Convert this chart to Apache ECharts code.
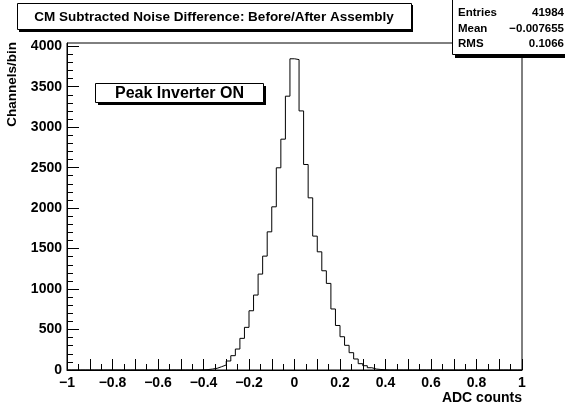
<!DOCTYPE html>
<html><head><meta charset="utf-8">
<script src="https://cdn.jsdelivr.net/npm/echarts@6/dist/echarts.min.js"></script>
<style>html,body{margin:0;padding:0;background:#fff}#c{width:565px;height:408px}</style>
</head><body><div id="c"></div>
<script>
// ---- data ----
const histLow = -1, histHigh = 1, binWidth = 0.02;
// counts per bin (100 bins, lower edges -1, -0.98, ... 0.98)
const counts = [
  0,0,0,0,0,0,0,0,0,0,
  0,0,0,0,0,0,0,0,0,0,
  0,0,0,0,0,0,0,0,0,2,
  5,12,21,41,62,111,177,259,391,527,
  732,926,1185,1407,1707,2016,2498,2852,3383,3845,
  3835,3201,2539,2127,1654,1460,1226,1070,754,550,
  411,305,214,136,78,53,28,12,6,3,
  0,0,0,0,0,0,0,0,0,0,
  0,0,0,0,0,0,0,0,0,0,
  0,0,0,0,0,0,0,0,0,0
];
const xTickLabels = [-1,-0.8,-0.6,-0.4,-0.2,0,0.2,0.4,0.6,0.8,1];
const yTickLabels = [0,500,1000,1500,2000,2500,3000,3500,4000];
const titleText = 'CM Subtracted Noise Difference: Before/After Assembly';
const statsLabels = ['Entries','Mean','RMS'];
const statsValues = ['41984','\u22120.007655','0.1066'];
const boxText = 'Peak Inverter ON';
const xName = 'ADC counts', yName = 'Channels/bin';
const yMax = 4040;

// ---- build ----
const FF = '"Liberation Sans", Arial, Helvetica, sans-serif';
const r2 = v => Math.round(v * 1000) / 1000;
const xMajorTicks = [], xMinorTicks = [], yMinorTicks = [];
for (let i = 0; i <= 20; i++) xMajorTicks.push(r2(-1 + i * 0.1));
for (let i = 0; i <= 40; i++) xMinorTicks.push(r2(-1 + i * 0.05));
for (let v = 0; v <= 4000; v += 100) yMinorTicks.push(v);

const histData = counts.map((c, i) => [r2(histLow + i * binWidth), c]);
histData.push([histHigh, counts[counts.length - 1]]);

const fmt = v => {
  if (Math.abs(v) < 1e-9) return '0';
  return (v < 0 ? '\u2212' : '') + String(Math.abs(+(+v).toFixed(2)));
};

const chart = echarts.init(document.getElementById('c'), null, {renderer: 'canvas'});
const black = '#000';
const labelStyle = {fontFamily: FF, fontWeight: 'bold', fontSize: 14, color: black};

chart.setOption({
  animation: false,
  backgroundColor: '#fff',
  grid: {left: 67, right: 43, top: 43, bottom: 38, show: true, borderColor: black, borderWidth: 1,
         containLabel: false, outerBoundsMode: 'none'},
  xAxis: [
    {type: 'value', min: -1, max: 1, position: 'bottom',
     axisLine: {show: true, onZero: false, lineStyle: {color: black}},
     axisTick: {show: true, inside: true, length: 11, customValues: xMajorTicks, lineStyle: {color: black}},
     axisLabel: Object.assign({customValues: xTickLabels, formatter: fmt, margin: 6}, labelStyle),
     splitLine: {show: false},
     name: xName, nameLocation: 'end', nameGap: 0,
     nameTextStyle: Object.assign({align: 'right', verticalAlign: 'top', padding: [21, 0, 0, 0]}, labelStyle)},
    {type: 'value', min: -1, max: 1, position: 'bottom',
     axisLine: {show: false, onZero: false},
     axisTick: {show: true, inside: true, length: 6, customValues: xMinorTicks, lineStyle: {color: black}},
     axisLabel: {show: false}, splitLine: {show: false}}
  ],
  yAxis: [
    {type: 'value', min: 0, max: yMax, position: 'left',
     axisLine: {show: true, onZero: false, lineStyle: {color: black}},
     axisTick: {show: true, inside: true, length: 12, customValues: yTickLabels, lineStyle: {color: black}},
     axisLabel: Object.assign({customValues: yTickLabels, margin: 5, formatter: v => String(v)}, labelStyle),
     splitLine: {show: false},
     name: yName, nameLocation: 'end', nameGap: 1, nameRotate: 90,
     nameTextStyle: Object.assign({align: 'right', verticalAlign: 'bottom', padding: [0, 0, 48, 0]}, labelStyle, {fontSize: 13.5})},
    {type: 'value', min: 0, max: yMax, position: 'left',
     axisLine: {show: false, onZero: false},
     axisTick: {show: true, inside: true, length: 6, customValues: yMinorTicks, lineStyle: {color: black}},
     axisLabel: {show: false}, splitLine: {show: false}}
  ],
  series: [{
    type: 'line', step: 'end', data: histData, xAxisIndex: 0, yAxisIndex: 0,
    symbol: 'none', showSymbol: false, lineStyle: {color: black, width: 1}, clip: true, z: 5
  }],
  graphic: [
    {type: 'rect', z: 100, shape: {x: 19, y: 5, width: 394, height: 27}, style: {fill: black}},
    {type: 'rect', z: 101, shape: {x: 17.5, y: 3.5, width: 394, height: 26}, style: {fill: '#fff', stroke: black, lineWidth: 1}},
    {type: 'text', z: 102, x: 214, y: 17, style: {text: titleText, font: 'bold 13.5px ' + FF, fill: black, textAlign: 'center', textVerticalAlign: 'middle'}},

    {type: 'rect', z: 100, shape: {x: 455, y: 1, width: 120, height: 57}, style: {fill: black}},
    {type: 'rect', z: 101, shape: {x: 452.5, y: -1.5, width: 120, height: 56}, style: {fill: '#fff', stroke: black, lineWidth: 1}},
    {type: 'text', z: 102, x: 458, y: 13, style: {text: statsLabels[0], font: 'bold 11.5px ' + FF, fill: black, textAlign: 'left', textVerticalAlign: 'middle'}},
    {type: 'text', z: 102, x: 458, y: 29, style: {text: statsLabels[1], font: 'bold 11.5px ' + FF, fill: black, textAlign: 'left', textVerticalAlign: 'middle'}},
    {type: 'text', z: 102, x: 458, y: 44, style: {text: statsLabels[2], font: 'bold 11.5px ' + FF, fill: black, textAlign: 'left', textVerticalAlign: 'middle'}},
    {type: 'text', z: 102, x: 564, y: 13, style: {text: statsValues[0], font: 'bold 11.5px ' + FF, fill: black, textAlign: 'right', textVerticalAlign: 'middle'}},
    {type: 'text', z: 102, x: 564, y: 29, style: {text: statsValues[1], font: 'bold 11.5px ' + FF, fill: black, textAlign: 'right', textVerticalAlign: 'middle'}},
    {type: 'text', z: 102, x: 564, y: 44, style: {text: statsValues[2], font: 'bold 11.5px ' + FF, fill: black, textAlign: 'right', textVerticalAlign: 'middle'}},

    {type: 'rect', z: 100, shape: {x: 98, y: 86, width: 168, height: 19}, style: {fill: black}},
    {type: 'rect', z: 101, shape: {x: 95.5, y: 83.5, width: 168, height: 19}, style: {fill: '#fff', stroke: black, lineWidth: 1}},
    {type: 'text', z: 102, x: 179.5, y: 93.5, style: {text: boxText, font: 'bold 16px ' + FF, fill: black, textAlign: 'center', textVerticalAlign: 'middle'}}
  ]
});
</script></body></html>
